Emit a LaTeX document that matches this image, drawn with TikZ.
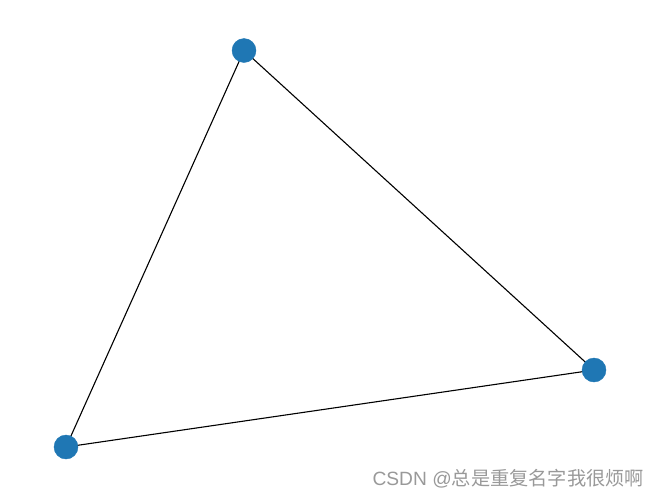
\documentclass[tikz,border=0pt]{standalone}
\usepackage{fontspec}
\newfontfamily\cjk{Noto Sans CJK SC}
\newfontfamily\latinsans{Liberation Sans}
\definecolor{nodeblue}{HTML}{1F77B4}
\begin{document}
\begin{tikzpicture}[x=1pt,y=-1pt,
  vtx/.style={circle,fill=nodeblue,draw=nodeblue,minimum size=24pt,inner sep=0pt},
  edge/.style={draw=black,line width=1.1pt}]
\useasboundingbox (0,0) rectangle (660,499);
\coordinate (a) at (244,50.5);
\coordinate (b) at (594,370);
\coordinate (c) at (66,447);
\draw[edge] (a) -- (b) (b) -- (c) (c) -- (a);
\node[vtx] (na) at (a) {};
\node[vtx] (nb) at (b) {};
\node[vtx] (nc) at (c) {};
\node[anchor=east,text=black!40,font=\fontsize{19.2pt}{21pt}\selectfont,inner sep=0pt] (wm) at (644,479) {{\latinsans CSDN @}{\cjk 总是重复名字我很烦啊}};
\end{tikzpicture}
\end{document}
